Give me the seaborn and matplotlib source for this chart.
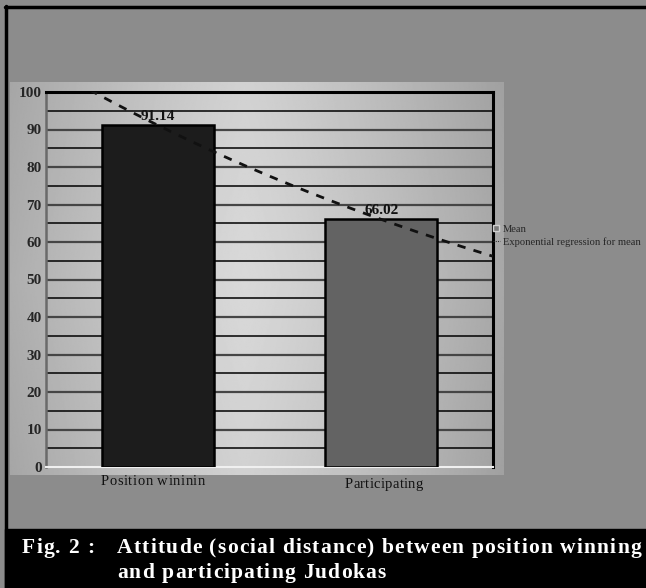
import numpy as np
import pandas as pd
import matplotlib
matplotlib.use("Agg")
import matplotlib.pyplot as plt
from matplotlib.lines import Line2D
from matplotlib.patches import Rectangle
from matplotlib import font_manager
from matplotlib.ft2font import FT2Font
import seaborn as sns

# Data
categories = ["Position wininin", "Participating"]
means = [91.14, 66.02]
bar_colors = ["#1c1c1c", "#636363"]
y_ticks = [0, 10, 20, 30, 40, 50, 60, 70, 80, 90, 100]
caption_lead = "Fig. 2 :"
caption_line1 = "Attitude (social distance) between position winning"
caption_line2 = "and participating Judokas"
legend_labels = ["Mean", "Exponential regression for mean"]

sns.set_style("white")
plt.rcParams["font.family"] = ["Liberation Serif", "DejaVu Serif"]

W, H = 646, 588
DPI = 100
fig = plt.figure(figsize=(W / DPI, H / DPI), dpi=DPI)
fig.patch.set_facecolor("#8c8c8c")


def fx(px):
    return px / W


def fy(py):
    return 1 - py / H


def advances(s, size, weight):
    """Pixel advance width of each character of s."""
    path = font_manager.findfont(
        font_manager.FontProperties(family="Liberation Serif", weight=weight))
    font = FT2Font(path)
    font.set_size(size, DPI)
    return [font.load_char(ord(c)).linearHoriAdvance / 65536 for c in s]


def spaced_text(s, x0, x1, ybase, size, weight="normal", color="black",
                tracking=None):
    """Draw s letter by letter on baseline ybase, spread from x0 to x1 (px)."""
    adv = advances(s, size, weight)
    if tracking is None:
        tracking = (x1 - x0 - sum(adv)) / max(len(s) - 1, 1)
    x = x0
    for c, a in zip(s, adv):
        if c != " ":
            fig.text(fx(x), fy(ybase), c, ha="left", va="baseline",
                     fontsize=size, fontweight=weight, color=color)
        x += a + tracking
    return tracking


# outer frame lines
fig.add_artist(Line2D([fx(6), fx(6)], [fy(6), fy(588)], color="black", lw=2.5))
fig.add_artist(Line2D([fx(5), fx(646)], [fy(7), fy(7)], color="black", lw=2.5))

# shaded chart panel
panel = fig.add_axes([fx(10), fy(475), fx(494), (475 - 82) / H])
xs = np.linspace(-1, 1, 400)
ys = np.linspace(-1, 1, 300)
X, Y = np.meshgrid(xs, ys)
shade = 0.85 - 0.18 * np.abs(X + 0.05) ** 1.2 - 0.03 * np.abs(Y)
panel.imshow(shade, cmap="gray", vmin=0, vmax=1, aspect="auto",
             extent=[0, 1, 0, 1])
panel.set_axis_off()

# main axes
ax = fig.add_axes([fx(46), fy(467), fx(447), (467 - 92) / H])
ax.set_facecolor("none")

df = pd.DataFrame({"group": categories, "mean": means})
sns.barplot(data=df, x="group", y="mean", hue="group", palette=bar_colors,
            width=0.5, edgecolor="black", linewidth=1.8, legend=False,
            ax=ax, zorder=3)

ax.set_xlim(-0.5, 1.5)
ax.set_ylim(0, 100)

# horizontal grid: darker every 10, black at the 5s
for v in range(5, 100, 10):
    ax.axhline(v, color="black", lw=1.1, zorder=1)
for v in range(10, 100, 10):
    ax.axhline(v, color="#454545", lw=1.6, zorder=1)

# exponential regression through the means
xi = np.arange(len(means))
b, a = np.polyfit(xi, np.log(means), 1)
xx = np.linspace(-0.5, 1.5, 200)
ax.plot(xx, np.exp(a + b * xx), color="#111111", lw=2.0,
        dashes=(3, 3), zorder=5, clip_on=True)

# value labels
for i, v in enumerate(means):
    ax.text(i, v + 0.6, f"{v:.2f}", ha="center", va="bottom",
            fontsize=11, fontweight="bold", color="#111111", zorder=6)

# spines
for s in ["top", "right"]:
    ax.spines[s].set_color("black")
    ax.spines[s].set_linewidth(2.2)
ax.spines["left"].set_color("#6a6a6a")
ax.spines["left"].set_linewidth(1.8)
ax.spines["bottom"].set_color("#f0f0f0")
ax.spines["bottom"].set_linewidth(1.5)

ax.set_yticks(y_ticks)
ax.set_yticklabels([str(t) for t in y_ticks], fontsize=11, fontweight="bold")
ax.tick_params(axis="y", length=2.5, width=1.2, color="#e0e0e0", pad=0.5)
ax.set_xticks([0, 1])
ax.set_xticklabels([])
ax.tick_params(axis="x", length=0)
ax.set_xlabel("")
ax.set_ylabel("")

# category labels, letter-spaced
spaced_text(categories[0], 101, 205, 485, 10.5, color="#111111")
spaced_text(categories[1], 345, 423, 488, 10.5, color="#111111")

# legend
handles = [
    Line2D([], [], marker="s", color="none", markerfacecolor="#7a7a7a",
           markeredgecolor="#d0d0d0", markersize=5, label=legend_labels[0]),
    Line2D([], [], color="#333333", lw=0.8, dashes=(1, 1),
           label=legend_labels[1]),
]
fig.legend(handles=handles, loc="upper left",
           bbox_to_anchor=(fx(488), fy(219)), frameon=False,
           fontsize=7.6, handlelength=0.6, handletextpad=0.3,
           labelspacing=0.3, borderpad=0)

# caption band
fig.add_artist(Rectangle((fx(5), 0), 1 - fx(5), fy(529), color="black",
                         transform=fig.transFigure))
cap_size = 15.5
trk = spaced_text(caption_line1, 117, 641, 553, cap_size, "bold", "white")
spaced_text(caption_lead, 22, None, 553, cap_size, "bold", "white",
            tracking=trk)
spaced_text(caption_line2, 117, None, 578, cap_size, "bold", "white",
            tracking=trk)

fig.savefig("out.png", dpi=DPI, facecolor=fig.get_facecolor())
